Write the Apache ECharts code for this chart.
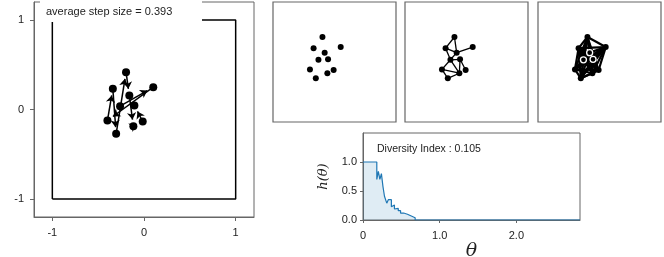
<!DOCTYPE html>
<html><head><meta charset="utf-8">
<script src="https://cdn.jsdelivr.net/npm/echarts@6.0.0/dist/echarts.min.js"></script>
<style>html,body{margin:0;padding:0;background:#fff}#c{width:664px;height:257px}</style>
</head><body><div id="c"></div>
<script>
// ---- data ----
const ptX = [-0.340, -0.196, 0.101, -0.160, -0.261, -0.105, -0.399, -0.116, -0.014, -0.304];
const ptY = [0.231, 0.417, 0.249, 0.156, 0.037, 0.045, -0.123, -0.187, -0.134, -0.272];
const walkOrder = [4, 2, 6, 0, 9, 1, 3, 7, 8, 5];
const graphEdges = [[1,0],[1,3],[0,3],[3,2],[0,4],[4,3],[4,5],[4,6],[5,7],[6,7],[6,9],[9,7],[5,8],[4,7]];
const interiorPts = [3, 4, 5];
const boxX = [-1, 1, 1, -1, -1];
const boxY = [-1, -1, 1, 1, -1];
const mainTicks = [-1, 0, 1];
const thetaVals = [0, 0.18, 0.20, 0.22, 0.24, 0.26, 0.28, 0.30, 0.31, 0.33, 0.37, 0.39, 0.41, 0.43, 0.46, 0.49, 0.53, 0.58, 0.63, 0.68, 2.83];
const hVals     = [1.0, 0.70, 0.84, 0.70, 0.80, 0.58, 0.41, 0.33, 0.29, 0.35, 0.23, 0.26, 0.19, 0.20, 0.16, 0.12, 0.10, 0.07, 0.04, 0.0, 0.0];
const thetaTicks = [0, 1, 2];
const hTicks = [0, 0.5, 1.0];
const stepLabel = 'average step size = 0.393';
const diversityLabel = 'Diversity Index : 0.105';

// ---- derived ----
const pts = ptX.map((x, i) => [x, ptY[i]]);
const arrows = [];
for (let k = 0; k + 1 < walkOrder.length; k++) {
  const a = pts[walkOrder[k]], b = pts[walkOrder[k + 1]];
  const dx = b[0] - a[0], dy = b[1] - a[1];
  const d = Math.hypot(dx, dy);
  const f = Math.max(0.3, 1 - 0.075 / d);
  arrows.push({ coords: [a, [a[0] + dx * f, a[1] + dy * f]] });
}
const edges2 = graphEdges.map(e => ({ coords: [pts[e[0]], pts[e[1]]] }));
const edgesAll = [];
for (let i = 0; i < pts.length; i++) for (let j = i + 1; j < pts.length; j++) edgesAll.push({ coords: [pts[i], pts[j]] });
const boxData = boxX.map((x, i) => [x, boxY[i]]);
const hData = thetaVals.map((t, i) => [t, hVals[i]]);

const FONT = 'Liberation Sans, Arial, sans-serif';
const frameColor = '#666';

function hiddenAxis(min, max) {
  return { min, max, show: true, axisLine: { show: false }, axisTick: { show: false }, axisLabel: { show: false }, splitLine: { show: false } };
}

const chart = echarts.init(document.getElementById('c'), null, { renderer: 'canvas' });
chart.setOption({
  animation: false,
  backgroundColor: '#fff',
  grid: [
    { left: 34, top: 2, width: 220, height: 215, show: true, borderColor: frameColor, borderWidth: 1, outerBoundsMode: 'none', containLabel: false },
    { left: 273, top: 2, width: 123, height: 120, show: true, borderColor: frameColor, borderWidth: 1.2, outerBoundsMode: 'none', containLabel: false },
    { left: 405, top: 2, width: 123, height: 120, show: true, borderColor: frameColor, borderWidth: 1.2, outerBoundsMode: 'none', containLabel: false },
    { left: 538, top: 2, width: 123, height: 120, show: true, borderColor: frameColor, borderWidth: 1.2, outerBoundsMode: 'none', containLabel: false },
    { left: 363, top: 133, width: 217, height: 87, show: true, borderColor: frameColor, borderWidth: 1, outerBoundsMode: 'none', containLabel: false }
  ],
  xAxis: [
    { gridIndex: 0, type: 'value', min: -1.2, max: 1.2,
      axisLine: { show: true, onZero: false, lineStyle: { color: frameColor } },
      axisTick: { show: true, length: 4, lineStyle: { color: frameColor }, customValues: mainTicks },
      axisLabel: { color: '#222', fontSize: 11, fontFamily: FONT, margin: 10, customValues: mainTicks },
      splitLine: { show: false } },
    Object.assign({ gridIndex: 1, type: 'value' }, hiddenAxis(-1, 1)),
    Object.assign({ gridIndex: 2, type: 'value' }, hiddenAxis(-1, 1)),
    Object.assign({ gridIndex: 3, type: 'value' }, hiddenAxis(-1, 1)),
    { gridIndex: 4, type: 'value', min: 0, max: 2.83,
      axisLine: { show: true, onZero: false, lineStyle: { color: frameColor } },
      axisTick: { show: true, length: 3, lineStyle: { color: frameColor }, customValues: thetaTicks },
      axisLabel: { color: '#222', fontSize: 11, fontFamily: FONT, margin: 10, customValues: thetaTicks,
        formatter: v => v === 0 ? '0' : v.toFixed(1) },
      splitLine: { show: false },
      name: 'θ', nameLocation: 'middle', nameGap: 20,
      nameTextStyle: { fontFamily: 'DejaVu Serif, serif', fontStyle: 'italic', fontSize: 19, color: '#222' } }
  ],
  yAxis: [
    { gridIndex: 0, type: 'value', min: -1.2, max: 1.2,
      axisLine: { show: true, onZero: false, lineStyle: { color: frameColor } },
      axisTick: { show: true, length: 4, lineStyle: { color: frameColor }, customValues: mainTicks },
      axisLabel: { color: '#222', fontSize: 11, fontFamily: FONT, margin: 10, customValues: mainTicks },
      splitLine: { show: false } },
    Object.assign({ gridIndex: 1, type: 'value' }, hiddenAxis(-1, 1)),
    Object.assign({ gridIndex: 2, type: 'value' }, hiddenAxis(-1, 1)),
    Object.assign({ gridIndex: 3, type: 'value' }, hiddenAxis(-1, 1)),
    { gridIndex: 4, type: 'value', min: 0, max: 1.5,
      axisLine: { show: true, onZero: false, lineStyle: { color: frameColor } },
      axisTick: { show: true, length: 3, lineStyle: { color: frameColor }, customValues: hTicks },
      axisLabel: { color: '#222', fontSize: 11, fontFamily: FONT, margin: 6, customValues: hTicks,
        formatter: v => v.toFixed(1) },
      splitLine: { show: false },
      name: 'h(θ)', nameLocation: 'middle', nameGap: 33, nameRotate: 90,
      nameTextStyle: { fontFamily: 'DejaVu Serif, serif', fontStyle: 'italic', fontSize: 13, color: '#222' } }
  ],
  series: [
    { type: 'line', xAxisIndex: 0, yAxisIndex: 0, data: boxData, symbol: 'none',
      lineStyle: { color: '#000', width: 1.5 }, z: 2 },
    { type: 'lines', coordinateSystem: 'cartesian2d', xAxisIndex: 0, yAxisIndex: 0, data: arrows,
      symbol: ['none', 'arrow'], symbolSize: 7,
      lineStyle: { color: '#000', width: 1.5, opacity: 1 }, z: 3 },
    { type: 'scatter', xAxisIndex: 0, yAxisIndex: 0, data: pts, symbolSize: 8,
      itemStyle: { color: '#000', opacity: 1 }, z: 4 },

    { type: 'scatter', xAxisIndex: 1, yAxisIndex: 1, data: pts, symbolSize: 6,
      itemStyle: { color: '#000', opacity: 1 }, z: 4 },

    { type: 'lines', coordinateSystem: 'cartesian2d', xAxisIndex: 2, yAxisIndex: 2, data: edges2,
      lineStyle: { color: '#000', width: 1.3, opacity: 1 }, z: 3 },
    { type: 'scatter', xAxisIndex: 2, yAxisIndex: 2, data: pts, symbolSize: 6,
      itemStyle: { color: '#000', opacity: 1 }, z: 4 },

    { type: 'lines', coordinateSystem: 'cartesian2d', xAxisIndex: 3, yAxisIndex: 3, data: edgesAll,
      lineStyle: { color: '#000', width: 2.2, opacity: 1 }, z: 3 },
    { type: 'scatter', xAxisIndex: 3, yAxisIndex: 3, data: pts.filter((p, i) => interiorPts.indexOf(i) < 0), symbolSize: 6,
      itemStyle: { color: '#000', opacity: 1 }, z: 4 },
    { type: 'scatter', xAxisIndex: 3, yAxisIndex: 3, data: interiorPts.map(i => pts[i]), symbolSize: 6,
      itemStyle: { color: '#000', borderColor: '#fff', borderWidth: 1.3, opacity: 1 }, z: 5 },

    { type: 'line', xAxisIndex: 4, yAxisIndex: 4, data: hData, step: 'end', symbol: 'none',
      lineStyle: { color: '#1f77b4', width: 1.2 },
      areaStyle: { color: 'rgba(31,119,180,0.2)' }, z: 3 }
  ],
  graphic: [
    { type: 'rect', left: 40, top: 1, z: 100, shape: { width: 162, height: 21 }, style: { fill: '#fff' } },
    { type: 'text', left: 46, top: 6, z: 101, style: { text: stepLabel, fill: '#222', font: '11px ' + FONT } },
    { type: 'text', left: 377, top: 144, z: 101, style: { text: diversityLabel, fill: '#222', font: '10.5px ' + FONT } }
  ]
});
</script></body></html>
